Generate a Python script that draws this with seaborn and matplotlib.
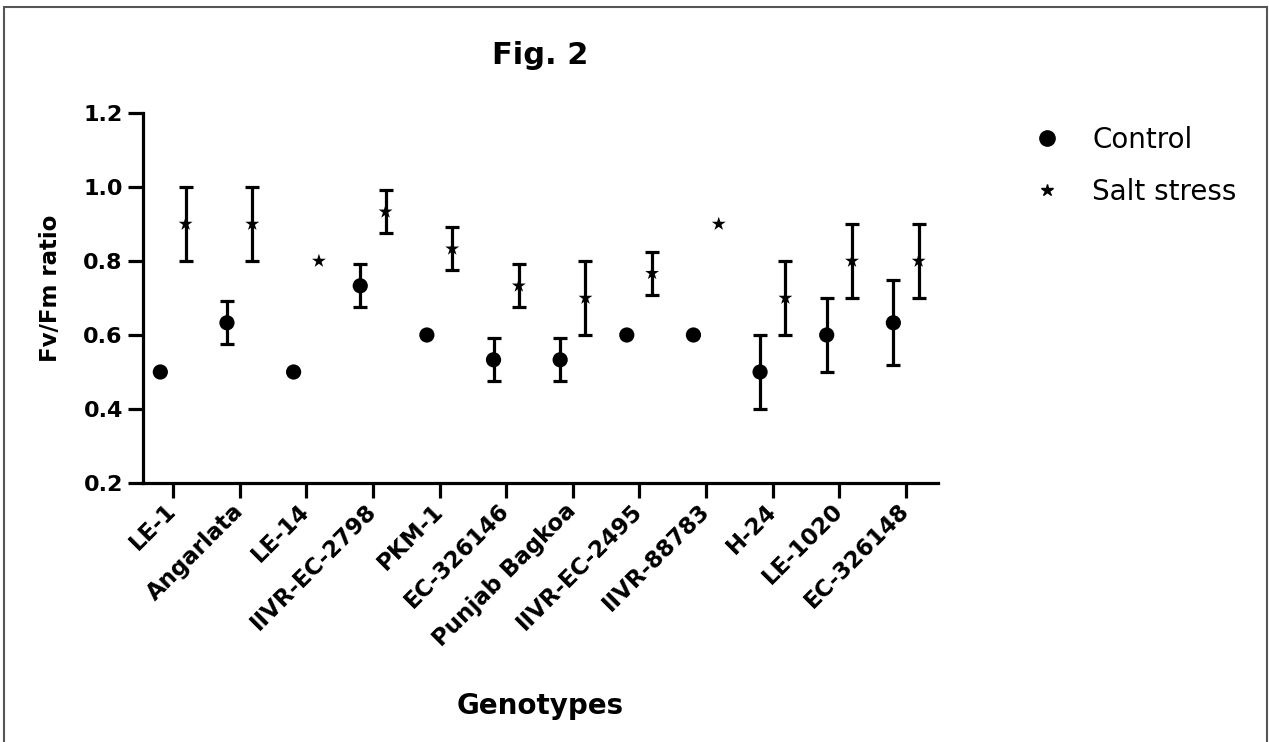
import numpy as np
import pandas as pd
import matplotlib
matplotlib.use("Agg")
import matplotlib.pyplot as plt
import seaborn as sns
from matplotlib.lines import Line2D
from matplotlib.patches import Rectangle

genotypes = ["LE-1", "Angarlata", "LE-14", "IIVR-EC-2798", "PKM-1", "EC-326146",
             "Punjab Bagkoa", "IIVR-EC-2495", "IIVR-88783", "H-24", "LE-1020", "EC-326148"]
control_mean = [0.500, 0.633, 0.500, 0.733, 0.600, 0.533, 0.533, 0.600, 0.600, 0.500, 0.600, 0.633]
control_err = [0.0, 0.058, 0.0, 0.058, 0.0, 0.058, 0.058, 0.0, 0.0, 0.100, 0.100, 0.115]
salt_mean = [0.900, 0.900, 0.800, 0.933, 0.833, 0.733, 0.700, 0.767, 0.900, 0.700, 0.800, 0.800]
salt_err = [0.100, 0.100, 0.0, 0.058, 0.058, 0.058, 0.100, 0.058, 0.0, 0.100, 0.100, 0.100]
treatments = ["Control", "Salt stress"]
y_ticks = [0.2, 0.4, 0.6, 0.8, 1.0, 1.2]

sns.set_style("ticks")
plt.rcParams["font.family"] = ["DejaVu Sans"]
plt.rcParams["text.color"] = "black"
plt.rcParams["axes.labelcolor"] = "black"

W, H = 1269, 742
fig = plt.figure(figsize=(W / 100, H / 100), dpi=100)
ax = fig.add_axes([143 / W, 1 - 483 / H, (938 - 143) / W, (483 - 113) / H])

pos = np.arange(len(genotypes))
dodge = 0.19
df = pd.DataFrame({
    "genotype": genotypes * 2,
    "treatment": [treatments[0]] * len(genotypes) + [treatments[1]] * len(genotypes),
    "mean": control_mean + salt_mean,
    "err": control_err + salt_err,
    "x": np.concatenate([pos - dodge, pos + dodge]),
})

# error bars (only where an error exists)
eb = df[df["err"] > 0]
ax.errorbar(eb["x"], eb["mean"], yerr=eb["err"], fmt="none", ecolor="black",
            elinewidth=2.3, capsize=5, capthick=2.3, zorder=2)

sns.scatterplot(data=df[df["treatment"] == "Control"], x="x", y="mean", color="black",
                marker="o", s=120, linewidth=0, edgecolor="none", ax=ax, zorder=3, legend=False)
sns.scatterplot(data=df[df["treatment"] == "Salt stress"], x="x", y="mean", color="black",
                marker="*", s=110, linewidth=0, edgecolor="none", ax=ax, zorder=3, legend=False)

ax.set_xlim(-0.45, len(genotypes) - 0.52)
ax.set_ylim(0.2, 1.2)
ax.set_yticks(y_ticks)
ax.set_yticklabels([f"{v:.1f}" for v in y_ticks])
ax.set_xticks(pos)
ax.set_xticklabels(genotypes, rotation=45, ha="right", va="center", rotation_mode="anchor")

sns.despine(ax=ax)
for s in ["left", "bottom"]:
    ax.spines[s].set_linewidth(2.3)
    ax.spines[s].set_color("black")
ax.tick_params(axis="both", length=10.5, width=2.3, color="black", labelcolor="black")
ax.tick_params(axis="x", pad=7, labelsize=16.5)
ax.tick_params(axis="y", pad=4, labelsize=16)
for lab in ax.get_xticklabels() + ax.get_yticklabels():
    lab.set_fontweight("bold")

ax.set_xlabel("Genotypes", fontsize=20, fontweight="bold", color="black")
ax.xaxis.set_label_coords(0.5, (483 - 706) / 370)
ax.xaxis.label.set_va("center")
ax.set_ylabel("Fv/Fm ratio", fontsize=16.5, fontweight="bold", color="black")
ax.yaxis.set_label_coords((51 - 143) / 795, (483 - 288) / 370)
ax.yaxis.label.set_va("center")

ax.set_title("Fig. 2", fontsize=22, fontweight="bold", pad=35, color="black")

handles = [Line2D([], [], linestyle="none", marker="o", color="black", markersize=11),
           Line2D([], [], linestyle="none", marker="*", color="black", markersize=9)]
leg = fig.legend(handles, treatments, loc="center left", bbox_to_anchor=(1016 / W, 1 - 166 / H),
                 frameon=False, fontsize=20, handlelength=1.2, handletextpad=1.05,
                 labelspacing=0.86, borderpad=0)
for t in leg.get_texts():
    t.set_color("black")

fig.add_artist(Rectangle((4 / W, -0.05), (1267 - 4) / W, 1.05 - 7 / H, transform=fig.transFigure,
                         fill=False, edgecolor="#555555", linewidth=1.5))

fig.savefig("out.png", dpi=100)
